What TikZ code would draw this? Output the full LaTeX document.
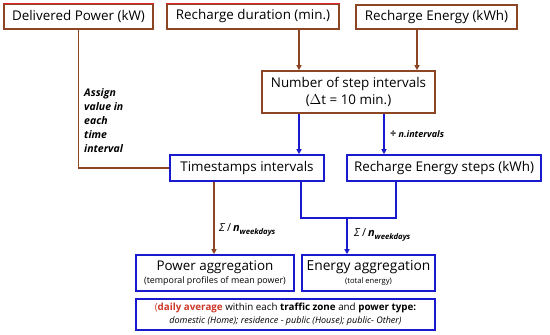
\documentclass[tikz,border=0pt]{standalone}
\usepackage{fontspec}
\setmainfont{Open Sans}
\usetikzlibrary{arrows.meta,calc}
\definecolor{brn}{RGB}{140,70,35}
\definecolor{redt}{RGB}{225,35,45}
\definecolor{blu}{RGB}{25,25,205}
\definecolor{redw}{RGB}{205,55,40}
\tikzset{
  inbox/.style={draw=brn,line width=1.6pt,inner sep=0pt,align=center,font=\fontsize{13.4}{15}\selectfont},
  outbox/.style={draw=blu,line width=1.6pt,inner sep=0pt,align=center,font=\fontsize{13.4}{15}\selectfont},
  brl/.style={draw=brn,line width=1.4pt},
  bll/.style={draw=blu,line width=1.4pt},
  tip/.style={-{Triangle[length=5pt,width=5pt]}},
  lbl/.style={font=\fontsize{10.5}{14}\selectfont\bfseries\itshape,inner sep=0pt,align=left},
}
\begin{document}
\begin{tikzpicture}[x=1pt,y=-1pt]
\useasboundingbox (0,0) rectangle (550,335);
% top row
\node[inbox,minimum width=149pt,minimum height=25pt] (dp) at (78.5,16.5) {Delivered Power (kW)};
\node[inbox,minimum width=172pt,minimum height=25pt] (rd) at (253,16.5) {Recharge duration (min.)};
\node[inbox,minimum width=161pt,minimum height=24pt] (re) at (436.5,17) {Recharge Energy (kWh)};
\draw[redt,line width=1.2pt] (dp.north west) -- (dp.north east);
\draw[redt,line width=1.2pt] (rd.north west) -- (rd.north east);
% middle
\node[inbox,minimum width=173pt,minimum height=42pt,font=\fontsize{13.4}{17}\selectfont] (ns) at (348.5,92) {Number of step intervals\\($\Delta$t = 10 min.)};
\node[outbox,minimum width=154pt,minimum height=26pt] (ts) at (247,168) {Timestamps intervals};
\node[outbox,minimum width=194pt,minimum height=26pt] (res) at (444,168) {Recharge Energy steps (kWh)};
% bottom
\node[outbox,minimum width=158pt,minimum height=36pt] (pa) at (215,273) {Power aggregation\\[-2pt]{\fontsize{8.9}{10}\selectfont (temporal profiles of mean power)}};
\node[outbox,minimum width=133pt,minimum height=36pt,font=\fontsize{13.8}{15}\selectfont] (ea) at (368.5,273) {Energy aggregation\\[-2pt]{\fontsize{7.6}{9}\selectfont (total energy)}};
\node[outbox,minimum width=299pt,minimum height=31pt,font=\fontsize{9.8}{12.5}\selectfont] (bot) at (285.5,314.5) {{\color{redw}(\bfseries daily average} within each \textbf{traffic zone} and \textbf{power type:}\\{\fontsize{9}{10}\selectfont\itshape domestic (Home); residence - public (House); public- Other)}};
% helper coordinates
\coordinate (xa) at (299,0);
\coordinate (xb) at (417,0);
\coordinate (xc) at (384,0);
\coordinate (xd) at (214,0);
\coordinate (xe) at (301,0);
\coordinate (xf) at (396,0);
\coordinate (xg) at (347,0);
\coordinate (jn) at (0,218);
% connectors
\draw[brl,tip] (rd.south -| xa) -- (ns.north -| xa);
\draw[brl,tip] (re.south -| xb) -- (ns.north -| xb);
\draw[bll,tip] (ns.south -| xa) -- (ts.north -| xa);
\draw[bll,tip] (ns.south -| xc) -- (res.north -| xc);
\draw[brl] (dp.south) |- (ts.west);
\draw[brl,tip] (ts.south -| xd) -- (pa.north -| xd);
\draw[bll] (ts.south -| xe) |- (jn -| xf) -- (res.south -| xf);
\draw[bll,tip] (jn -| xg) -- (ea.north -| xg);
% labels
\node[lbl,anchor=north west] (asg) at (84,88) {Assign\\value in\\each\\time\\interval};
\node[lbl,anchor=west,font=\fontsize{9}{10}\selectfont\bfseries\itshape] (div) at (390,134) {{\fontsize{11}{10}\selectfont ÷} n.intervals};
\node[anchor=west,inner sep=0pt,font=\fontsize{11}{12}\selectfont] (s1) at (219,230) {\textit{Σ}\,/\,\textbf{\textit{n}}\textsubscript{\textbf{\textit{weekdays}}}};
\node[anchor=west,inner sep=0pt,font=\fontsize{11}{12}\selectfont] (s2) at (354,235) {\textit{Σ}\,/\,\textbf{\textit{n}}\textsubscript{\textbf{\textit{weekdays}}}};
\end{tikzpicture}
\end{document}
